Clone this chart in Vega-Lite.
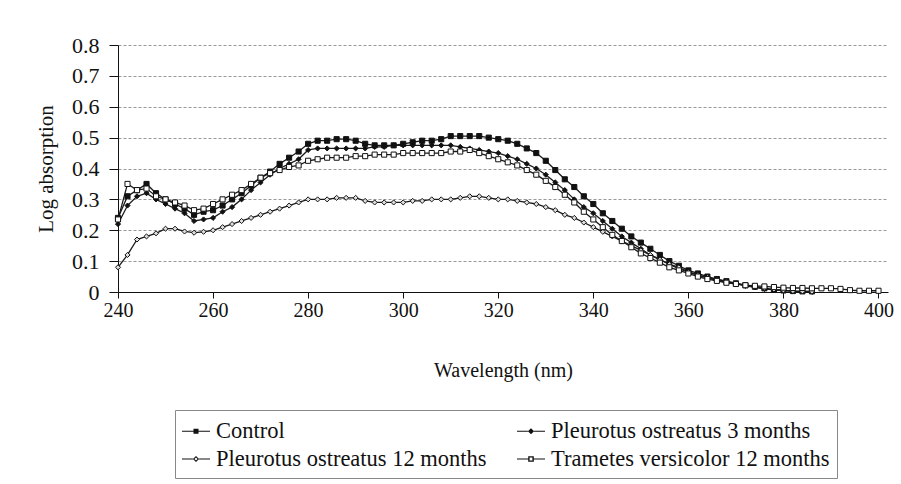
{
  "$schema": "https://vega.github.io/schema/vega-lite/v6.json",
  "autosize": {"type": "none"},
  "width": 770,
  "height": 247,
  "padding": {"left": 118, "top": 45, "right": 13, "bottom": 192},
  "background": "white",
  "data": {"values": [
    {"w": 240, "s1": 0.24, "s2": 0.22, "s3": 0.08, "s4": 0.235},
    {"w": 242, "s1": 0.31, "s2": 0.28, "s3": 0.12, "s4": 0.35},
    {"w": 244, "s1": 0.33, "s2": 0.31, "s3": 0.17, "s4": 0.33},
    {"w": 246, "s1": 0.35, "s2": 0.32, "s3": 0.18, "s4": 0.335},
    {"w": 248, "s1": 0.32, "s2": 0.30, "s3": 0.19, "s4": 0.31},
    {"w": 250, "s1": 0.30, "s2": 0.285, "s3": 0.205, "s4": 0.30},
    {"w": 252, "s1": 0.285, "s2": 0.27, "s3": 0.205, "s4": 0.29},
    {"w": 254, "s1": 0.27, "s2": 0.255, "s3": 0.196, "s4": 0.28},
    {"w": 256, "s1": 0.25, "s2": 0.23, "s3": 0.192, "s4": 0.265},
    {"w": 258, "s1": 0.26, "s2": 0.235, "s3": 0.195, "s4": 0.27},
    {"w": 260, "s1": 0.265, "s2": 0.24, "s3": 0.20, "s4": 0.285},
    {"w": 262, "s1": 0.28, "s2": 0.26, "s3": 0.21, "s4": 0.30},
    {"w": 264, "s1": 0.30, "s2": 0.275, "s3": 0.22, "s4": 0.315},
    {"w": 266, "s1": 0.32, "s2": 0.30, "s3": 0.23, "s4": 0.33},
    {"w": 268, "s1": 0.345, "s2": 0.33, "s3": 0.24, "s4": 0.35},
    {"w": 270, "s1": 0.37, "s2": 0.355, "s3": 0.25, "s4": 0.37},
    {"w": 272, "s1": 0.39, "s2": 0.38, "s3": 0.26, "s4": 0.385},
    {"w": 274, "s1": 0.415, "s2": 0.40, "s3": 0.27, "s4": 0.395},
    {"w": 276, "s1": 0.435, "s2": 0.415, "s3": 0.28, "s4": 0.405},
    {"w": 278, "s1": 0.455, "s2": 0.43, "s3": 0.29, "s4": 0.41},
    {"w": 280, "s1": 0.48, "s2": 0.46, "s3": 0.30, "s4": 0.425},
    {"w": 282, "s1": 0.49, "s2": 0.465, "s3": 0.30, "s4": 0.43},
    {"w": 284, "s1": 0.49, "s2": 0.465, "s3": 0.30, "s4": 0.435},
    {"w": 286, "s1": 0.495, "s2": 0.465, "s3": 0.305, "s4": 0.435},
    {"w": 288, "s1": 0.495, "s2": 0.465, "s3": 0.305, "s4": 0.435},
    {"w": 290, "s1": 0.49, "s2": 0.465, "s3": 0.305, "s4": 0.44},
    {"w": 292, "s1": 0.48, "s2": 0.465, "s3": 0.295, "s4": 0.44},
    {"w": 294, "s1": 0.475, "s2": 0.47, "s3": 0.29, "s4": 0.445},
    {"w": 296, "s1": 0.475, "s2": 0.47, "s3": 0.29, "s4": 0.445},
    {"w": 298, "s1": 0.475, "s2": 0.475, "s3": 0.29, "s4": 0.445},
    {"w": 300, "s1": 0.48, "s2": 0.475, "s3": 0.29, "s4": 0.45},
    {"w": 302, "s1": 0.485, "s2": 0.475, "s3": 0.295, "s4": 0.45},
    {"w": 304, "s1": 0.49, "s2": 0.475, "s3": 0.295, "s4": 0.45},
    {"w": 306, "s1": 0.49, "s2": 0.475, "s3": 0.30, "s4": 0.45},
    {"w": 308, "s1": 0.495, "s2": 0.475, "s3": 0.30, "s4": 0.45},
    {"w": 310, "s1": 0.505, "s2": 0.475, "s3": 0.30, "s4": 0.455},
    {"w": 312, "s1": 0.505, "s2": 0.47, "s3": 0.305, "s4": 0.455},
    {"w": 314, "s1": 0.505, "s2": 0.465, "s3": 0.31, "s4": 0.46},
    {"w": 316, "s1": 0.505, "s2": 0.46, "s3": 0.31, "s4": 0.45},
    {"w": 318, "s1": 0.50, "s2": 0.455, "s3": 0.305, "s4": 0.44},
    {"w": 320, "s1": 0.495, "s2": 0.45, "s3": 0.30, "s4": 0.43},
    {"w": 322, "s1": 0.49, "s2": 0.44, "s3": 0.30, "s4": 0.42},
    {"w": 324, "s1": 0.48, "s2": 0.43, "s3": 0.295, "s4": 0.41},
    {"w": 326, "s1": 0.465, "s2": 0.415, "s3": 0.29, "s4": 0.395},
    {"w": 328, "s1": 0.45, "s2": 0.40, "s3": 0.285, "s4": 0.38},
    {"w": 330, "s1": 0.425, "s2": 0.38, "s3": 0.275, "s4": 0.36},
    {"w": 332, "s1": 0.395, "s2": 0.355, "s3": 0.265, "s4": 0.34},
    {"w": 334, "s1": 0.365, "s2": 0.33, "s3": 0.25, "s4": 0.315},
    {"w": 336, "s1": 0.34, "s2": 0.30, "s3": 0.24, "s4": 0.29},
    {"w": 338, "s1": 0.31, "s2": 0.275, "s3": 0.225, "s4": 0.26},
    {"w": 340, "s1": 0.285, "s2": 0.255, "s3": 0.21, "s4": 0.235},
    {"w": 342, "s1": 0.255, "s2": 0.23, "s3": 0.195, "s4": 0.21},
    {"w": 344, "s1": 0.23, "s2": 0.205, "s3": 0.18, "s4": 0.185},
    {"w": 346, "s1": 0.205, "s2": 0.18, "s3": 0.165, "s4": 0.165},
    {"w": 348, "s1": 0.18, "s2": 0.16, "s3": 0.15, "s4": 0.145},
    {"w": 350, "s1": 0.16, "s2": 0.14, "s3": 0.135, "s4": 0.125},
    {"w": 352, "s1": 0.14, "s2": 0.12, "s3": 0.12, "s4": 0.11},
    {"w": 354, "s1": 0.12, "s2": 0.105, "s3": 0.105, "s4": 0.095},
    {"w": 356, "s1": 0.10, "s2": 0.09, "s3": 0.09, "s4": 0.08},
    {"w": 358, "s1": 0.085, "s2": 0.075, "s3": 0.08, "s4": 0.07},
    {"w": 360, "s1": 0.07, "s2": 0.065, "s3": 0.065, "s4": 0.06},
    {"w": 362, "s1": 0.06, "s2": 0.055, "s3": 0.055, "s4": 0.05},
    {"w": 364, "s1": 0.05, "s2": 0.045, "s3": 0.048, "s4": 0.042},
    {"w": 366, "s1": 0.042, "s2": 0.038, "s3": 0.04, "s4": 0.036},
    {"w": 368, "s1": 0.035, "s2": 0.032, "s3": 0.034, "s4": 0.03},
    {"w": 370, "s1": 0.028, "s2": 0.026, "s3": 0.028, "s4": 0.026},
    {"w": 372, "s1": 0.022, "s2": 0.02, "s3": 0.022, "s4": 0.022},
    {"w": 374, "s1": 0.017, "s2": 0.015, "s3": 0.017, "s4": 0.02},
    {"w": 376, "s1": 0.012, "s2": 0.01, "s3": 0.012, "s4": 0.018},
    {"w": 378, "s1": 0.008, "s2": 0.007, "s3": 0.008, "s4": 0.016},
    {"w": 380, "s1": 0.005, "s2": 0.005, "s3": 0.005, "s4": 0.014},
    {"w": 382, "s1": 0.003, "s2": 0.003, "s3": 0.003, "s4": 0.013},
    {"w": 384, "s1": 0.002, "s2": 0.002, "s3": 0.002, "s4": 0.013},
    {"w": 386, "s1": 0.002, "s2": 0.001, "s3": 0.001, "s4": 0.012},
    {"w": 388, "s4": 0.012},
    {"w": 390, "s4": 0.012},
    {"w": 392, "s4": 0.01},
    {"w": 394, "s4": 0.006},
    {"w": 396, "s4": 0.004},
    {"w": 398, "s4": 0.004},
    {"w": 400, "s4": 0.004}
  ]},
  "transform": [{"fold": ["s1", "s2", "s3", "s4"], "as": ["s", "v"]}],
  "encoding": {
    "x": {
      "field": "w", "type": "quantitative",
      "scale": {"domain": [240, 402], "nice": false, "zero": false},
      "axis": {
        "values": [240, 260, 280, 300, 320, 340, 360, 380, 400],
        "title": "Wavelength (nm)", "grid": false, "labelFlush": false,
        "labelFontSize": 20, "titleFontSize": 20,
        "tickSize": 6, "labelPadding": 2, "titlePadding": 40
      }
    },
    "y": {
      "field": "v", "type": "quantitative",
      "scale": {"domain": [0, 0.8], "nice": false},
      "axis": {
        "values": [0, 0.1, 0.2, 0.3, 0.4, 0.5, 0.6, 0.7, 0.8],
        "labelExpr": "datum.value == 0 ? '0' : format(datum.value, '.1f')",
        "title": "Log absorption", "grid": true, "labelFlush": false,
        "labelFontSize": 22, "titleFontSize": 21,
        "gridDash": [3, 2], "gridColor": "#999", "gridWidth": 1,
        "tickSize": 9, "labelPadding": 10, "titlePadding": 15
      }
    }
  },
  "layer": [
    {
      "mark": {"type": "line", "color": "#1a1a1a", "strokeWidth": 1.3},
      "encoding": {"detail": {"field": "s"}}
    },
    {
      "mark": {"type": "point", "filled": true, "size": 26, "stroke": "#111", "strokeWidth": 1, "opacity": 1},
      "encoding": {
        "shape": {"field": "s", "type": "nominal",
          "scale": {"domain": ["s1", "s2", "s3", "s4"], "range": ["square", "diamond", "diamond", "square"]},
          "legend": null},
        "fill": {"field": "s", "type": "nominal",
          "scale": {"domain": ["s1", "s2", "s3", "s4"], "range": ["#111", "#111", "#dddddd", "#ffffff"]},
          "legend": null}
      }
    },
    {
      "mark": {"type": "point", "filled": true, "color": "#111", "opacity": 0},
      "encoding": {
        "shape": {"field": "s", "type": "nominal",
          "scale": {"domain": ["s1", "s3", "s2", "s4"], "range": [
            "M-1,-0.036H-0.18V0.036H-1Z M0.18,-0.036H1V0.036H0.18Z M-0.18,-0.18H0.18V0.18H-0.18Z",
            "M-1,-0.036H-0.22V0.036H-1Z M0.22,-0.036H1V0.036H0.22Z M0,-0.22L0.22,0L0,0.22L-0.22,0Z M0,-0.11L-0.11,0L0,0.11L0.11,0Z",
            "M-1,-0.036H-0.22V0.036H-1Z M0.22,-0.036H1V0.036H0.22Z M0,-0.22L0.22,0L0,0.22L-0.22,0Z",
            "M-1,-0.036H-0.2V0.036H-1Z M0.2,-0.036H1V0.036H0.2Z M-0.2,-0.2H0.2V0.2H-0.2Z M-0.1,-0.1V0.1H0.1V-0.1Z"
          ]},
          "legend": {
            "title": null, "orient": "none", "legendX": 57, "legendY": 365,
            "columns": 2, "columnPadding": 30, "rowPadding": 2,
            "padding": 7, "strokeColor": "#888", "fillColor": "white",
            "symbolSize": 784, "symbolOpacity": 1, "symbolFillColor": "#111", "symbolStrokeWidth": 0,
            "labelOffset": 6, "labelFont": "Liberation Serif", "labelFontSize": 22.5, "labelColor": "#111",
            "labelLimit": 500,
            "labelExpr": "datum.value == 's1' ? 'Control' : datum.value == 's2' ? 'Pleurotus ostreatus 3 months' : datum.value == 's3' ? 'Pleurotus ostreatus 12 months' : 'Trametes versicolor 12 months'",
            "encode": {"symbols": {"update": {"opacity": {"value": 1}, "fill": {"value": "#111"}, "strokeWidth": {"value": 0}}}}
          }
        }
      }
    }
  ],
  "resolve": {"scale": {"shape": "independent"}, "legend": {"shape": "independent"}},
  "config": {
    "view": {"stroke": null},
    "axis": {
      "domainColor": "#111", "tickColor": "#111", "labelColor": "#111", "titleColor": "#111",
      "labelFont": "Liberation Serif", "titleFont": "Liberation Serif",
      "titleFontWeight": "normal"
    }
  }
}
